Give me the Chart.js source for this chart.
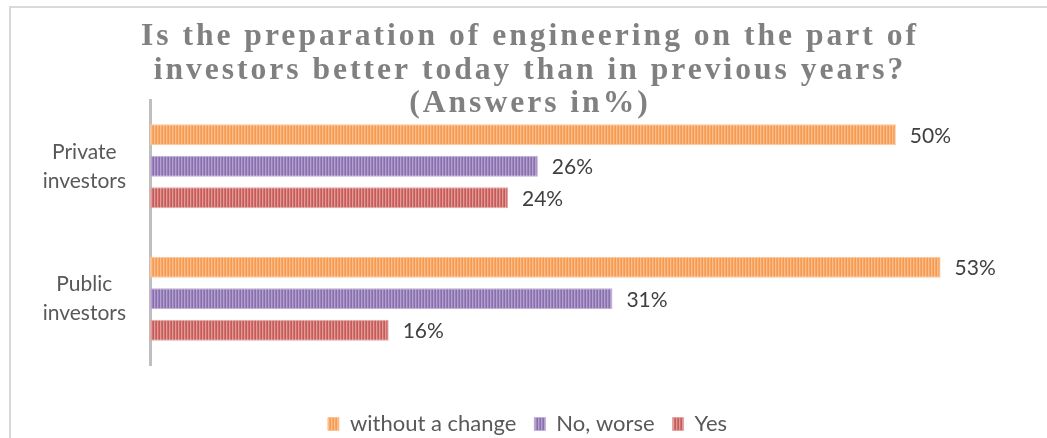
<!DOCTYPE html>
<html>
<head>
<meta charset="utf-8">
<script src="https://cdn.jsdelivr.net/npm/chart.js@4.4.1/dist/chart.umd.min.js"></script>
<style>
    html, body { margin: 0; padding: 0; background: #fff; }
    #wrap { width: 1047px; height: 438px; position: relative; }
</style>
</head>
<body>
<div id="wrap"><canvas id="barchart" width="1047" height="438"></canvas></div>
<script>
'use strict';

// Data for the chart
const titleLines = [
    'Is the preparation of engineering on the part of',
    'investors better today than in previous years?',
    '(Answers in%)',
];
const investorGroups = [['Private', 'investors'], ['Public', 'investors']];
const seriesNames = ['without a change', 'No, worse', 'Yes'];
const withoutChange = [50, 53];
const noWorse = [26, 31];
const yesAnswers = [24, 16];

// Base / light colours for the striped fills
const stripeColors = [
    ['#f59a50', '#fbbd8c', '#f7a867'],
    ['#8a6fae', '#b3a0cc', '#9a82bb'],
    ['#c55a57', '#e09a98', '#cf706d'],
];
const edgeColors = ['#fbc59a', '#bfaed6', '#e4a6a4'];

/* Build a vertical stripe pattern */
function stripes(cols) {
    const c = document.createElement('canvas');
    c.width = 3;
    c.height = 4;
    const g = c.getContext('2d');
    cols.forEach((col, i) => {
        g.fillStyle = col;
        g.fillRect(i, 0, 1, 4);
    });
    return g.createPattern(c, 'repeat');
}

// Frame lines and the title
const framePlugin = {
    id: 'frame',
    afterInit(chart) {
        // fixed legend height so the plot keeps its place
        const fit = chart.legend.fit;
        chart.legend.fit = function () {
            fit.call(this);
            this.height = 43;
        };
    },
    beforeDraw(chart) {
        const ctx = chart.ctx;
        ctx.save();
        ctx.strokeStyle = '#d9d9d9';
        ctx.lineWidth = 2;
        ctx.beginPath();
        ctx.moveTo(10, 438);
        ctx.lineTo(10, 7);
        ctx.lineTo(1047, 7);
        ctx.stroke();

        ctx.fillStyle = '#808080';
        ctx.font = 'bold 32px "Liberation Serif"';
        ctx.letterSpacing = '3px';
        ctx.textAlign = 'center';
        ctx.textBaseline = 'alphabetic';
        const w = ctx.measureText(titleLines[0]).width;
        const sx = 778 / w;
        const baselines = [45, 79, 112];
        titleLines.forEach((line, i) => {
            ctx.save();
            ctx.translate(530, baselines[i]);
            ctx.scale(sx, 1);
            ctx.fillText(line, 0, 0);
            ctx.restore();
        });
        ctx.restore();
    },
};

// Percent labels next to each bar
const valueLabels = {
    id: 'valueLabels',
    afterDatasetsDraw(chart) {
        const ctx = chart.ctx;
        ctx.save();
        ctx.font = '21px Lato';
        ctx.fillStyle = '#404040';
        ctx.textAlign = 'left';
        ctx.textBaseline = 'middle';
        chart.data.datasets.forEach((ds, i) => {
            chart.getDatasetMeta(i).data.forEach((bar, j) => {
                ctx.fillText(ds.data[j] + '%', bar.x + 14, bar.y + 1);
            });
        });
        ctx.restore();
    },
};

const chartElement = document.getElementById('barchart');
const seriesData = [withoutChange, noWorse, yesAnswers];

new Chart(chartElement, {
    type: 'bar',
    plugins: [framePlugin, valueLabels],
    data: {
        labels: investorGroups,
        datasets: seriesNames.map((name, i) => ({
            label: name,
            data: seriesData[i],
            backgroundColor: stripes(stripeColors[i]),
            borderColor: edgeColors[i],
            borderWidth: 1,
            borderSkipped: false,
            categoryPercentage: 0.713,
            barPercentage: 0.667,
        })),
    },
    options: {
        indexAxis: 'y',
        responsive: false,
        animation: false,
        events: [],
        layout: {
            padding: { left: 10, right: 2, top: 100, bottom: 0 },
        },
        scales: {
            x: {
                min: 0,
                max: 60,
                grid: { display: false, drawTicks: false },
                border: { display: false },
                ticks: { display: false },
                afterFit(scale) {
                    scale.height = 30;
                },
            },
            y: {
                grid: { display: false, drawTicks: false },
                border: { display: true, color: '#bfbfbf', width: 3 },
                ticks: {
                    color: '#595959',
                    font: { family: 'Lato', size: 21, lineHeight: 1.38 },
                    crossAlign: 'center',
                    padding: 24,
                },
                afterFit(scale) {
                    scale.width = 140;
                },
            },
        },
        plugins: {
            legend: {
                position: 'bottom',
                labels: {
                    color: '#595959',
                    font: { family: 'Lato', size: 22 },
                    boxWidth: 11,
                    boxHeight: 13,
                    padding: 18,
                },
            },
            tooltip: { enabled: false },
        },
    },
});
</script>
</body>
</html>
